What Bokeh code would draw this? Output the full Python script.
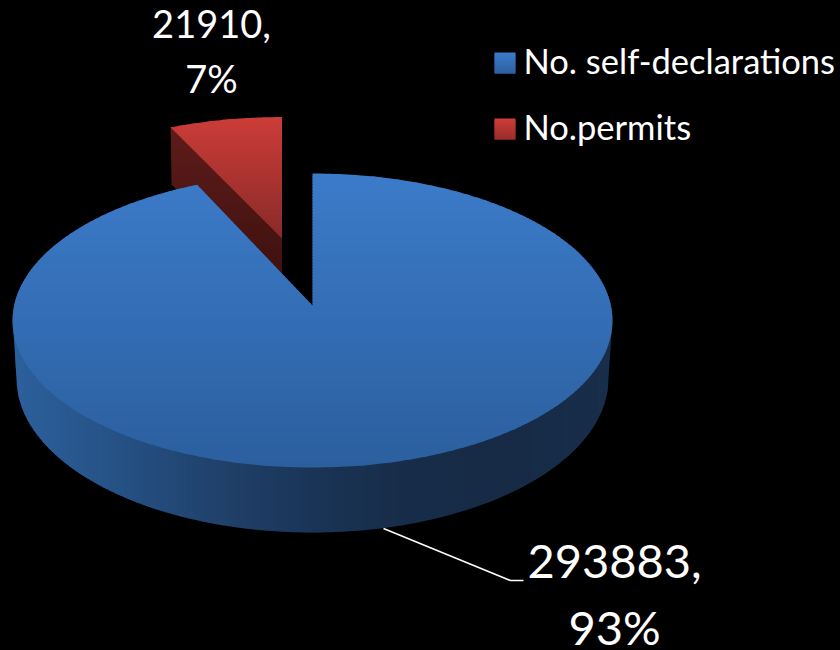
import math
from bokeh.plotting import figure
from bokeh.core.properties import value
from bokeh.embed import file_html
from bokeh.resources import INLINE

# data
categories = ["No. self-declarations", "No.permits"]
values = [293883, 21910]

FONT = "Lato"
W, H = 840, 650

total = sum(values)
red_angle = 360.0 * values[1] / total
blue_angle = 360.0 * values[0] / total
shares = [round(100 * v / total) for v in values]


def mix(stops, t):
    t = max(0.0, min(1.0, t))
    n = len(stops) - 1
    i = min(int(t * n), n - 1)
    f = t * n - i
    a, b = stops[i], stops[i + 1]
    r = [round(a[k] + (b[k] - a[k]) * f) for k in range(3)]
    return "#%02x%02x%02x" % tuple(r)


def clip(poly, axis, lo, hi):
    def one(pts, inside, isect):
        out = []
        for i in range(len(pts)):
            p, q = pts[i], pts[(i + 1) % len(pts)]
            if inside(p):
                out.append(p)
                if not inside(q):
                    out.append(isect(p, q))
            elif inside(q):
                out.append(isect(p, q))
        return out

    def at(c):
        def f(p, q):
            s = (c - p[axis]) / (q[axis] - p[axis])
            return (p[0] + (q[0] - p[0]) * s, p[1] + (q[1] - p[1]) * s)
        return f

    pts = one(poly, lambda p: p[axis] >= lo, at(lo))
    if pts:
        pts = one(pts, lambda p: p[axis] <= hi, at(hi))
    return pts


def bands(fig, poly, axis, lo, hi, stops, step=3.0, overlap=1.2):
    xs, ys, cs = [], [], []
    y = lo
    while y < hi:
        pts = clip(poly, axis, y, min(y + step + overlap, hi))
        if len(pts) >= 3:
            xs.append([p[0] for p in pts])
            ys.append([p[1] for p in pts])
            cs.append(mix(stops, (y - lo) / (hi - lo)))
        y += step
    fig.patches(xs, ys, fill_color=cs, line_color=None)


def persp(t_deg, cx, cy, rx, ry, shift):
    """Point of a tilted disc; t is clockwise from the far side."""
    t = math.radians(t_deg)
    u, v = math.sin(t), math.cos(t)
    c = shift / ry
    den = 1 + c * v
    return (cx + rx * u / den, cy - (ry * v + shift) / den)


def arc(t0, t1, *args, n=240):
    return [persp(t0 + (t1 - t0) * i / n, *args) for i in range(n + 1)]


TOP = (312.0, 320.0, 298.4, 147.0, 15.0)
BOT = (312.0, 378.0, 294.5, 154.0, 15.0)

p = figure(width=W, height=H, x_range=(0, W), y_range=(H, 0),
           output_backend="svg", toolbar_location=None,
           background_fill_color="#000000", border_fill_color="#000000",
           outline_line_color=None, min_border=0)
p.axis.visible = False
p.grid.visible = False

# exploded small slice
centre = (TOP[0], TOP[1] - TOP[4])
RV = (281.5, 238.0)
SX, SY = 0.965, 0.92


def red_pt(q):
    return (RV[0] + (q[0] - centre[0]) * SX, RV[1] + (q[1] - centre[1]) * SY)


red_arc = [red_pt(q) for q in arc(360 - red_angle, 360, *TOP, n=60)]
red_top = [RV] + red_arc
corner = red_arc[0]
red_side = [RV, corner, (corner[0] + 1, corner[1] + 57), (RV[0], RV[1] + 57)]
RED_TOP = [(204, 60, 56), (136, 42, 40)]
RED_SIDE = [(94, 28, 26), (58, 16, 14)]
bands(p, red_side, 1, corner[1], RV[1] + 57, RED_SIDE, step=2)
bands(p, red_top, 1, min(q[1] for q in red_top), RV[1], RED_TOP, step=2)

# side wall of the large slice (its upper edge runs under the top face)
tmax = math.degrees(math.acos(-TOP[4] / TOP[3]))
front_top = [(x, y - 3) for x, y in arc(tmax, 360 - tmax, *TOP)]
front_bot = arc(360 - tmax, tmax, *BOT)
side = front_top + front_bot
SIDE = [(44, 96, 156), (38, 82, 134), (32, 66, 108), (26, 52, 86),
        (23, 44, 72), (23, 43, 70), (24, 46, 74)]
bands(p, side, 0, min(q[0] for q in side), max(q[0] for q in side), SIDE, step=3)

# top of the large slice
blue_top = [centre] + arc(0, blue_angle, *TOP, n=360)
BLUE_TOP = [(60, 123, 201), (43, 95, 158)]
bands(p, blue_top, 1, min(q[1] for q in blue_top), max(q[1] for q in blue_top), BLUE_TOP, step=3)

# leader line
p.line([383, 510, 523], [528, 580, 580], line_color="#ffffff", line_width=1.6)

# data labels
p.text([211, 211], [23, 77],
       text=[f"{values[1]},", f"{shares[1]}%"],
       text_color="#ffffff", text_font=value(FONT), text_font_size="38px",
       text_align="center", text_baseline="alphabetic")
p.text([614, 614], [561, 626],
       text=[f"{values[0]},", f"{shares[0]}%"],
       text_color="#ffffff", text_font=value(FONT), text_font_size="47px",
       text_align="center", text_baseline="alphabetic")

# legend
for name, y0, stops in zip(categories, [52, 118], [[(60, 123, 201), (43, 95, 158)], [(204, 60, 56), (150, 44, 42)]]):
    bands(p, [(494, y0), (515, y0), (515, y0 + 21), (494, y0 + 21)], 1, y0, y0 + 21, stops, step=2)
    p.text([523], [y0 + 8], text=[name], text_color="#ffffff", text_font=value(FONT),
           text_font_size="34.5px", text_align="left", text_baseline="alphabetic")

html = file_html(p, INLINE)
html = html.replace("<head>", "<head><style>html,body{margin:0;padding:0;background:#000;overflow:hidden}</style>", 1)
open("out.html", "w").write(html)
